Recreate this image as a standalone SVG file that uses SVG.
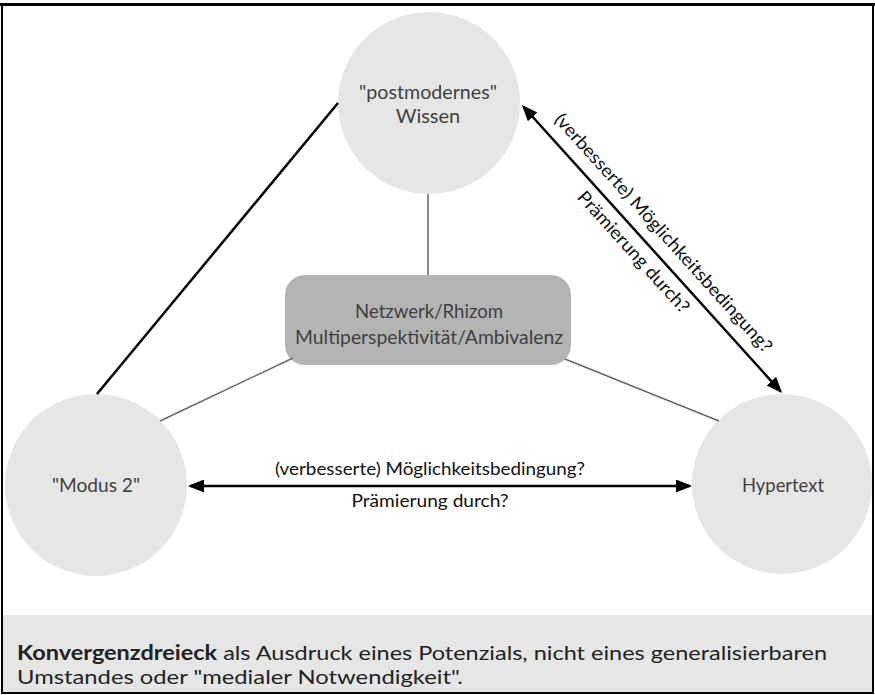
<svg xmlns="http://www.w3.org/2000/svg" width="875" height="695" viewBox="0 0 875 695">
<defs>
<style>
.node{fill:#e6e6e6}
.lbl{font-family:Lato,"Open Sans","Liberation Sans",sans-serif;font-size:20px;fill:#404040;text-anchor:middle}
.elbl{font-family:Lato,"Open Sans","Liberation Sans",sans-serif;font-size:18px;fill:#111;text-anchor:middle}
.thin{stroke:#666;stroke-width:1.5;fill:none}
.thick{stroke:#000;stroke-width:2.5;fill:none}
.cap{font-family:Lato,"Open Sans","Liberation Sans",sans-serif;font-size:20px;fill:#222}
</style>
<marker id="ah" viewBox="0 0 16 13" refX="14" refY="6.5" markerWidth="16" markerHeight="13" markerUnits="userSpaceOnUse" orient="auto-start-reverse">
<path d="M0,0 L16,6.5 L0,13 z" fill="#000"/>
</marker>
</defs>
<rect x="0" y="0" width="875" height="695" fill="#fff"/>
<rect id="caption-box" x="3" y="615" width="869" height="78" fill="#e6e6e6"/>
<rect x="2" y="4" width="871" height="689" fill="none" stroke="#000" stroke-width="2"/>
<line x1="0" y1="4.5" x2="875" y2="4.5" stroke="#000" stroke-width="3"/>

<g id="node-postmodernes">
<circle class="node" cx="429" cy="103" r="91"/>
<text class="lbl" x="428" y="99" textLength="138" lengthAdjust="spacingAndGlyphs">"postmodernes"</text>
<text class="lbl" x="428" y="123">Wissen</text>
</g>
<g id="node-modus2">
<circle class="node" cx="96" cy="485" r="91"/>
<text class="lbl" x="96" y="492" textLength="88" lengthAdjust="spacingAndGlyphs">"Modus 2"</text>
</g>
<g id="node-hypertext">
<circle class="node" cx="782" cy="484" r="90"/>
<text class="lbl" x="783" y="492" textLength="82" lengthAdjust="spacingAndGlyphs">Hypertext</text>
</g>
<g id="node-netzwerk">
<rect x="285" y="275" width="286" height="90" rx="20" fill="#b4b4b4"/>
<text class="lbl" x="429" y="318" textLength="148" lengthAdjust="spacingAndGlyphs">Netzwerk/Rhizom</text>
<text class="lbl" x="429" y="344" textLength="268" lengthAdjust="spacingAndGlyphs">Multiperspektivität/Ambivalenz</text>
</g>

<g id="connectors">
<line class="thin" x1="428" y1="194" x2="428" y2="275"/>
<line class="thin" x1="293" y1="358" x2="160" y2="421"/>
<line class="thin" x1="565" y1="359" x2="719" y2="421"/>
<line class="thick" x1="338" y1="103" x2="97" y2="394"/>
<line class="thick" x1="523.3" y1="106.5" x2="780.7" y2="391.5" marker-start="url(#ah)" marker-end="url(#ah)"/>
<line class="thick" x1="190" y1="486" x2="690" y2="486" marker-start="url(#ah)" marker-end="url(#ah)"/>
<text class="elbl" x="430" y="475" textLength="310" lengthAdjust="spacingAndGlyphs">(verbesserte) Möglichkeitsbedingung?</text>
<text class="elbl" x="430" y="507" textLength="157" lengthAdjust="spacingAndGlyphs">Prämierung durch?</text>
<text class="elbl" transform="translate(659,237) rotate(47.9)" textLength="315" lengthAdjust="spacingAndGlyphs">(verbesserte) Möglichkeitsbedingung?</text>
<text class="elbl" transform="translate(629,256) rotate(47.9)" textLength="157" lengthAdjust="spacingAndGlyphs">Prämierung durch?</text>
</g>

<g id="caption">
<text class="cap" x="17" y="660" textLength="810" lengthAdjust="spacingAndGlyphs"><tspan font-weight="bold">Konvergenzdreieck</tspan> als Ausdruck eines Potenzials, nicht eines generalisierbaren</text>
<text class="cap" x="17" y="684" textLength="446" lengthAdjust="spacingAndGlyphs">Umstandes oder "medialer Notwendigkeit".</text>
</g>
</svg>
